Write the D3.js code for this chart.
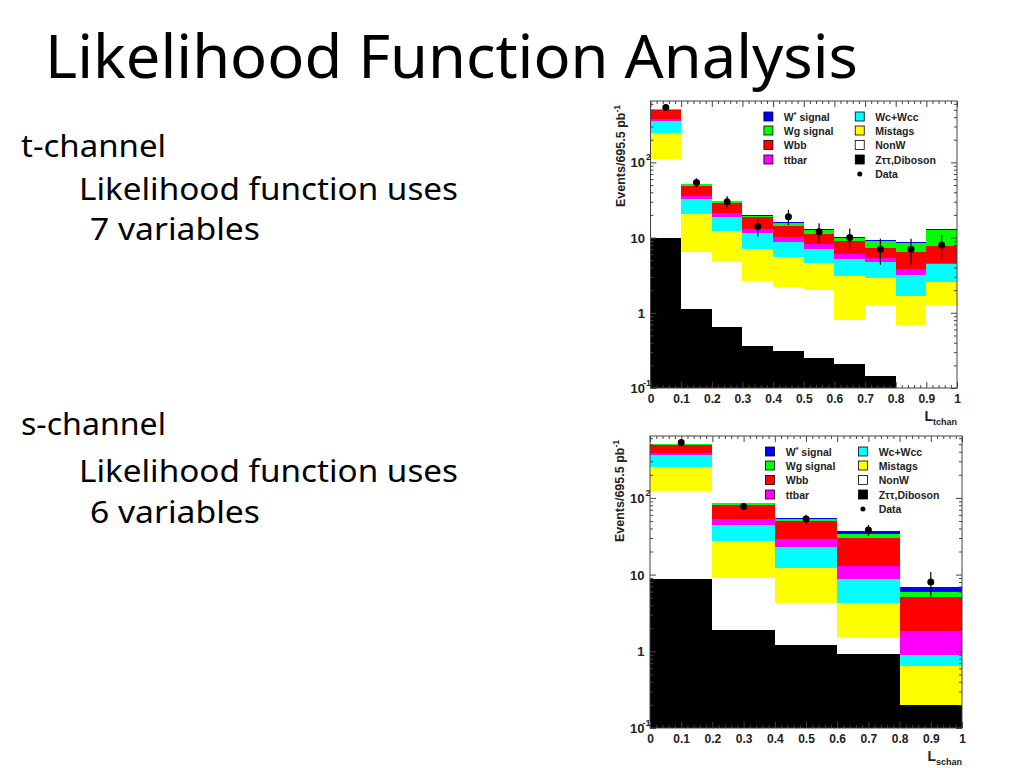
<!DOCTYPE html>
<html>
<head>
<meta charset="utf-8">
<script src="https://cdn.jsdelivr.net/npm/d3@7"></script>
<style>
  body { margin: 0; background: #fff; }
  svg { display: block; }
  .slide { font-family: "Comic Sans MS", "Noto Sans", sans-serif; fill: #000; }
  .root { font-family: "Liberation Sans", Arial, Helvetica, sans-serif; font-weight: bold; fill: #222; }
</style>
</head>
<body>
<svg id="slide" width="1024" height="768"></svg>
<script>
// bin edges of the two discriminants
const tchanEdges = [0, 0.1, 0.2, 0.3, 0.4, 0.5, 0.6, 0.7, 0.8, 0.9, 1.0];
const schanEdges = [0, 0.2, 0.4, 0.6, 0.8, 1.0];

// processes in legend order (top of the stack first)
const processKeys   = ["wstar", "wg", "wbb", "ttbar", "wc", "mistag", "nonw", "ztt"];
const processNames  = ["W* signal", "Wg signal", "Wbb", "ttbar", "Wc+Wcc", "Mistags", "NonW", "Z\u03c4\u03c4,Diboson"];
const processColors = ["#0000ff", "#00ff00", "#ff0000", "#ff00ff", "#00ffff", "#ffff00", "#ffffff", "#000000"];

// t-channel likelihood, events per bin
const tchanWstar  = [3, 1.1, 0.6, 0.4, 0.3, 0.3, 0.4, 0.3, 0.26, 0.3];
const tchanWg     = [5, 2.6, 1.2, 0.6, 1.4, 1.3, 0.8, 1.65, 1.9, 4.7];
const tchanWbb    = [123, 12.8, 7.9, 6.1, 4.1, 3.15, 3.0, 1.94, 2.71, 3.2];
const tchanTtbar  = [27, 3.5, 2.5, 1.4, 1.36, 1.16, 0.85, 0.62, 0.6, 0.22];
const tchanWc     = [106, 11.9, 6.5, 4.5, 3.3, 2.43, 2.06, 1.85, 1.52, 1.85];
const tchanMistag = [137, 14, 7.6, 4.3, 3.3, 2.56, 2.3, 1.68, 0.98, 1.31];
const tchanNonW   = [102, 5.3, 4.1, 2.3, 1.9, 1.75, 0.59, 1.12, 0.69, 1.26];
const tchanZtt    = [9.8, 1.11, 0.64, 0.36, 0.31, 0.25, 0.21, 0.145, 0, 0];
const tchanData   = [535, 54, 30, 14, 19, 12, 10, 7, 7, 8];

// s-channel likelihood
const schanWstar  = [4, 1.6, 1.6, 3.5, 0.9];
const schanWg     = [15, 5, 3.7, 3.2, 0.9];
const schanWbb    = [108, 27.5, 20.6, 17.4, 3.27];
const schanTtbar  = [23, 8.7, 6.3, 4.3, 0.94];
const schanWc     = [104, 16.5, 11.2, 4.5, 0.24];
const schanMistag = [133, 18.5, 7.8, 2.7, 0.45];
const schanNonW   = [114, 7.15, 3.0, 0.61, 0];
const schanZtt    = [8.7, 1.9, 1.21, 0.93, 0.2];
const schanData   = [527, 77, 53, 38, 8];

// axis labels
const xTickValues = [0, 0.1, 0.2, 0.3, 0.4, 0.5, 0.6, 0.7, 0.8, 0.9, 1];
const xTickLabels = ["0", "0.1", "0.2", "0.3", "0.4", "0.5", "0.6", "0.7", "0.8", "0.9", "1"];
const yTickValues = [0.1, 1, 10, 100];
const yTickBase   = ["10", "1", "10", "10"];
const yTickExp    = ["-1", "", "", "2"];

const svg = d3.select("#slide");

// ---- slide text ----
svg.append("text")
  .attr("class", "slide")
  .attr("x", 45).attr("y", 78)
  .attr("font-size", 60)
  .attr("textLength", 813).attr("lengthAdjust", "spacingAndGlyphs")
  .text("Likelihood Function Analysis");

const bodyLines = [
  {t: "t-channel", x: 21, y: 157, w: 145},
  {t: "Likelihood function uses", x: 79, y: 200, w: 379},
  {t: "7 variables", x: 90, y: 240, w: 170},
  {t: "s-channel", x: 21, y: 435, w: 145},
  {t: "Likelihood function uses", x: 79, y: 482, w: 379},
  {t: "6 variables", x: 90, y: 523, w: 170}
];
svg.selectAll(".body").data(bodyLines).join("text")
  .attr("class", "slide body")
  .attr("x", d => d.x).attr("y", d => d.y)
  .attr("font-size", 30)
  .attr("textLength", d => d.w).attr("lengthAdjust", "spacingAndGlyphs")
  .text(d => d.t);

// ---- ROOT style stacked histogram ----
function drawChart(c) {
  const x = d3.scaleLinear().domain([0, 1]).range([c.left, c.right]);
  const y = d3.scaleLog().domain([0.1, c.yMax]).range([c.bottom, c.top]).clamp(true);
  const yv = v => y(Math.max(v, 0.1));

  const rows = c.edges.slice(0, -1).map((e, i) => {
    const r = {x0: e, x1: c.edges[i + 1]};
    processKeys.forEach(k => r[k] = c.series[k][i]);
    return r;
  });
  // bottom of stack is the last legend entry
  const layers = d3.stack().keys(processKeys.slice().reverse())(rows);

  const g = svg.append("g");

  g.selectAll("g.layer").data(layers).join("g")
    .attr("class", "layer")
    .attr("fill", d => processColors[processKeys.indexOf(d.key)])
    .selectAll("rect").data(d => d).join("rect")
      .attr("shape-rendering", "crispEdges")
      .attr("x", d => x(d.data.x0))
      .attr("width", d => x(d.data.x1) - x(d.data.x0))
      .attr("y", d => yv(d[1]))
      .attr("height", d => yv(d[0]) - yv(d[1]));

  // ticks (inside the frame on all four sides)
  const yMinor = [];
  [-1, 0, 1, 2].forEach(p => {
    for (let m = 2; m <= 9; m++) {
      const v = m * Math.pow(10, p);
      if (v < c.yMax) yMinor.push(v);
    }
  });
  const xMinor = d3.range(0, 51).filter(i => i % 5 !== 0).map(i => i / 50);

  const tickAxes = [
    [d3.axisRight(y).tickValues(yTickValues).tickSize(6), `translate(${c.left},0)`],
    [d3.axisRight(y).tickValues(yMinor).tickSize(3), `translate(${c.left},0)`],
    [d3.axisLeft(y).tickValues(yTickValues).tickSize(6), `translate(${c.right},0)`],
    [d3.axisLeft(y).tickValues(yMinor).tickSize(3), `translate(${c.right},0)`],
    [d3.axisTop(x).tickValues(xTickValues).tickSize(6), `translate(0,${c.bottom})`],
    [d3.axisTop(x).tickValues(xMinor).tickSize(3), `translate(0,${c.bottom})`],
    [d3.axisBottom(x).tickValues(xTickValues).tickSize(6), `translate(0,${c.top})`],
    [d3.axisBottom(x).tickValues(xMinor).tickSize(3), `translate(0,${c.top})`]
  ];
  tickAxes.forEach(([ax, tr]) => {
    const a = g.append("g").attr("transform", tr).call(ax.tickFormat(""));
    a.select(".domain").remove();
    a.selectAll("line").attr("stroke", "#444");
  });

  // frame
  g.append("rect")
    .attr("x", c.left).attr("y", c.top)
    .attr("width", c.right - c.left).attr("height", c.bottom - c.top)
    .attr("fill", "none").attr("stroke", "#444").attr("stroke-width", 1);

  // x labels
  const xl = g.append("g")
    .attr("transform", `translate(0,${c.bottom})`)
    .call(d3.axisBottom(x).tickValues(xTickValues).tickSize(0).tickPadding(6)
      .tickFormat((d, i) => xTickLabels[i]));
  xl.select(".domain").remove();
  xl.selectAll("text").attr("class", "root").attr("font-size", 12).style("fill", "#222");

  // y labels with exponents
  yTickValues.forEach((v, i) => {
    g.append("text").attr("class", "root")
      .attr("x", c.left - 5.5).attr("y", y(v) + 5)
      .attr("text-anchor", "end").attr("font-size", 13)
      .text(yTickBase[i]);
    if (yTickExp[i]) {
      g.append("text").attr("class", "root")
        .attr("x", c.left + 0.5).attr("y", y(v) - 2)
        .attr("text-anchor", "end").attr("font-size", 9)
        .text(yTickExp[i]);
    }
  });

  // axis titles
  const xt = g.append("text").attr("class", "root")
    .attr("x", c.right).attr("y", c.bottom + 33)
    .attr("text-anchor", "end");
  xt.append("tspan").attr("font-size", 14).text("L");
  xt.append("tspan").attr("font-size", 9).attr("dy", 4).text(c.xSub);

  const yt = g.append("text").attr("class", "root")
    .attr("transform", `translate(${c.left - 26},${c.top + 4}) rotate(-90)`)
    .attr("text-anchor", "end");
  yt.append("tspan").attr("font-size", 12.5).text("Events/695.5 pb");
  yt.append("tspan").attr("font-size", 8.5).attr("dy", -5).text("-1");

  // data points with Poisson errors
  const pts = g.selectAll(".pt").data(c.data).join("g").attr("class", "pt");
  pts.append("line")
    .attr("x1", (d, i) => x((c.edges[i] + c.edges[i + 1]) / 2))
    .attr("x2", (d, i) => x((c.edges[i] + c.edges[i + 1]) / 2))
    .attr("y1", d => yv(d - Math.sqrt(d)))
    .attr("y2", d => yv(d + Math.sqrt(d)))
    .attr("stroke", "#000").attr("stroke-width", 1.2);
  pts.append("circle")
    .attr("cx", (d, i) => x((c.edges[i] + c.edges[i + 1]) / 2))
    .attr("cy", d => yv(d))
    .attr("r", 3.5).attr("fill", "#000");

  // legend
  const w = c.right - c.left;
  const rowY = [15.5, 29.5, 44, 58.5, 73];
  const entries = processKeys.map((k, i) => ({
    name: processNames[i], color: processColors[i],
    col: i < 4 ? 0 : 1, row: i < 4 ? i : i - 4
  }));
  entries.push({name: "Data", color: null, col: 1, row: 4});
  const boxX = [0.37 * w, 0.668 * w];
  const txtX = [0.435 * w, 0.733 * w];

  entries.forEach(e => {
    const cy = c.top + rowY[e.row];
    const bx = c.left + boxX[e.col];
    if (e.color) {
      g.append("rect")
        .attr("x", bx).attr("y", cy - 4.5)
        .attr("width", 9).attr("height", 9)
        .attr("fill", e.color).attr("stroke", "#000").attr("stroke-width", 0.8);
    } else {
      g.append("circle").attr("cx", bx + 4.5).attr("cy", cy).attr("r", 2.5).attr("fill", "#000");
    }
    const t = g.append("text").attr("class", "root")
      .attr("x", c.left + txtX[e.col]).attr("y", cy + 4)
      .attr("font-size", 10.5);
    if (e.name === "W* signal") {
      t.append("tspan").text("W");
      t.append("tspan").attr("font-size", 7).attr("dy", -4).text("*");
      t.append("tspan").attr("dy", 4).text(" signal");
    } else {
      t.text(e.name);
    }
  });
}

drawChart({
  left: 650.5, right: 957, top: 101, bottom: 388, yMax: 655,
  edges: tchanEdges, xSub: "tchan", data: tchanData,
  series: {wstar: tchanWstar, wg: tchanWg, wbb: tchanWbb, ttbar: tchanTtbar,
           wc: tchanWc, mistag: tchanMistag, nonw: tchanNonW, ztt: tchanZtt}
});

drawChart({
  left: 650, right: 962, top: 436, bottom: 728, yMax: 641,
  edges: schanEdges, xSub: "schan", data: schanData,
  series: {wstar: schanWstar, wg: schanWg, wbb: schanWbb, ttbar: schanTtbar,
           wc: schanWc, mistag: schanMistag, nonw: schanNonW, ztt: schanZtt}
});
</script>
</body>
</html>
